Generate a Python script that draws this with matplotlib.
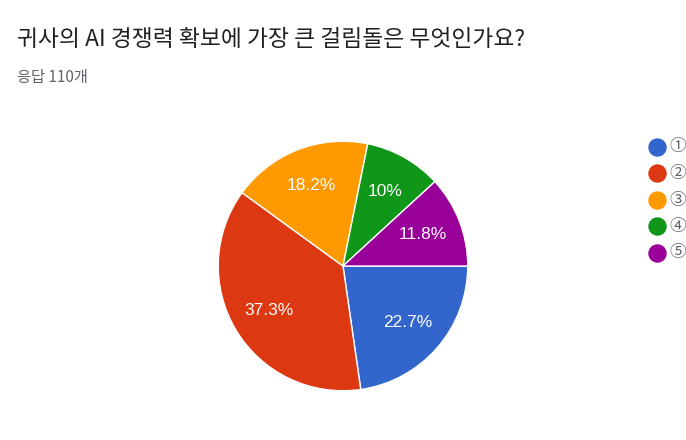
import matplotlib
matplotlib.use("Agg")
import matplotlib.pyplot as plt

plt.rcParams['font.family'] = ['Noto Sans CJK KR', 'DejaVu Sans']

title = "귀사의 AI 경쟁력 확보에 가장 큰 걸림돌은 무엇인가요?"
subtitle = "응답 110개"
labels = ["①", "②", "③", "④", "⑤"]
counts = [25, 41, 20, 11, 13]
colors = ["#3366cc", "#dc3912", "#ff9900", "#109618", "#990099"]

W, H = 686, 440
fig = plt.figure(figsize=(W / 100, H / 100), dpi=100)
fig.patch.set_facecolor("white")

def px(x, y, w, h):
    return [x / W, 1 - (y + h) / H, w / W, h / H]

# Title & subtitle
fig.text(17 / W, 1 - 40 / H, title, fontsize=16.4, color="#202124",
         ha="left", va="center")
fig.text(17 / W, 1 - 77 / H, subtitle, fontsize=11, color="#5f6368",
         ha="left", va="center")

# Pie
cx, cy, r = 343, 266, 126
ax = fig.add_axes(px(cx - r, cy - r, 2 * r, 2 * r))

def fmt(p):
    s = f"{p:.1f}"
    if s.endswith(".0"):
        s = s[:-2]
    return s + "%"

wedges, texts, autotexts = ax.pie(
    counts, colors=colors, startangle=0, counterclock=False,
    autopct=fmt, pctdistance=0.69, radius=1,
    wedgeprops=dict(edgecolor="white", linewidth=1),
    textprops=dict(color="white", fontsize=12.5, family=["Liberation Sans", "DejaVu Sans"]))
ax.set_xlim(-1.01, 1.01)
ax.set_ylim(-1.01, 1.01)
ax.set_aspect("equal")
ax.axis("off")

# Legend
row = 26.5
y_first = 147
lax = fig.add_axes(px(640, y_first - row / 2, W - 640, row * len(labels)))
lax.set_xlim(640, W)
lax.set_ylim(len(labels) - 0.5, -0.5)
lax.axis("off")
for i, (lab, col) in enumerate(zip(labels, colors)):
    lax.scatter([657], [i], s=150, color=col, clip_on=False)
    lax.text(669, i, lab, fontsize=12, color="#5f6368", ha="left", va="center",
             clip_on=False)

fig.savefig("out.png", dpi=100, facecolor="white")
